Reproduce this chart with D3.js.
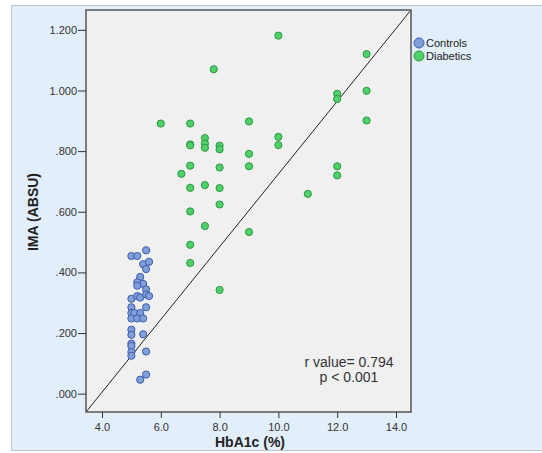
<!DOCTYPE html>
<html>
<head>
<meta charset="utf-8">
<script src="https://cdn.jsdelivr.net/npm/d3@7"></script>
<style>
  body { margin: 0; background: #fff; }
  text { font-family: Arial, "Liberation Sans", sans-serif; }
</style>
</head>
<body>
<div id="chart"></div>
<script>
// HbA1c (%) and IMA (ABSU) values
const controlsHbA1c = [5.0, 5.2, 5.5, 5.4, 5.6, 5.5, 5.3, 5.2, 5.4, 5.2, 5.5, 5.0, 5.2, 5.3, 5.5, 5.6, 5.0, 5.5,
  5.0, 5.1, 5.3, 5.0, 5.2, 5.4, 5.0, 5.0, 5.4, 5.0, 5.0, 5.0, 5.0, 5.5, 5.5, 5.3]
const controlsIMA = [0.454, 0.454, 0.473, 0.427, 0.435, 0.411, 0.385, 0.367, 0.362, 0.356, 0.344, 0.313, 0.322, 0.317, 0.327, 0.322, 0.285, 0.285,
  0.266, 0.266, 0.266, 0.248, 0.248, 0.248, 0.211, 0.194, 0.196, 0.165, 0.157, 0.137, 0.125, 0.139, 0.063, 0.046]

const diabeticsHbA1c = [6.0, 7.0, 7.0, 7.0, 7.5, 7.5, 7.5, 8.0, 8.0, 7.0, 6.7, 8.0, 9.0, 9.0, 9.0, 10.0, 10.0, 10.0,
  7.8, 7.0, 7.5, 8.0, 8.0, 7.0, 7.5, 9.0, 7.0, 7.0, 8.0, 11.0, 12.0, 12.0, 12.0, 12.0, 13.0, 13.0, 13.0]
const diabeticsIMA = [0.891, 0.891, 0.822, 0.819, 0.843, 0.825, 0.811, 0.818, 0.806, 0.752, 0.725, 0.746, 0.898, 0.791, 0.750, 1.181, 0.847, 0.820,
  1.070, 0.679, 0.688, 0.678, 0.624, 0.601, 0.553, 0.533, 0.491, 0.431, 0.342, 0.659, 0.989, 0.972, 0.750, 0.720, 1.120, 0.999, 0.901]

const xTicks = [4, 6, 8, 10, 12, 14]
const yTicks = [0, 0.2, 0.4, 0.6, 0.8, 1.0, 1.2]
const groups = ["Controls", "Diabetics"]
const colors = {Controls: {fill: "#7f9fdb", stroke: "#3d5ba8"}, Diabetics: {fill: "#4fd06a", stroke: "#2a9840"}}

const W = 542, H = 453
const PLOT = {LEFT: 86, RIGHT: 411, TOP: 10, BOTTOM: 412}

const svg = d3.select("#chart").append("svg")
    .attr("width", W)
    .attr("height", H)

// outer panel
svg.append("rect")
    .attr("x", 11.5).attr("y", 5.5)
    .attr("width", W).attr("height", 445)
    .attr("fill", "#e2eefa")
    .attr("stroke", "#b8c4d0")

const x = d3.scaleLinear().domain([3.456, 14.51]).range([PLOT.LEFT, PLOT.RIGHT])
const y = d3.scaleLinear().domain([-0.0605, 1.2655]).range([PLOT.BOTTOM, PLOT.TOP])

svg.append("rect")
    .attr("x", PLOT.LEFT).attr("y", PLOT.TOP)
    .attr("width", PLOT.RIGHT - PLOT.LEFT).attr("height", PLOT.BOTTOM - PLOT.TOP)
    .attr("fill", "#f0f0f0")

// reference line, corner to corner
svg.append("line")
    .attr("x1", x(x.domain()[0])).attr("y1", y(y.domain()[0]))
    .attr("x2", x(x.domain()[1])).attr("y2", y(y.domain()[1]))
    .attr("stroke", "#222")
    .attr("stroke-width", 1)

const points = []
controlsHbA1c.forEach((v, i) => points.push({g: "Controls", hb: v, ima: controlsIMA[i]}))
diabeticsHbA1c.forEach((v, i) => points.push({g: "Diabetics", hb: v, ima: diabeticsIMA[i]}))

svg.append("g").selectAll("circle")
    .data(points)
    .enter().append("circle")
        .attr("cx", d => x(d.hb))
        .attr("cy", d => y(d.ima))
        .attr("r", 3.6)
        .attr("fill", d => colors[d.g].fill)
        .attr("stroke", d => colors[d.g].stroke)
        .attr("stroke-width", 1)

// frame
svg.append("rect")
    .attr("x", PLOT.LEFT).attr("y", PLOT.TOP)
    .attr("width", PLOT.RIGHT - PLOT.LEFT).attr("height", PLOT.BOTTOM - PLOT.TOP)
    .attr("fill", "none")
    .attr("stroke", "#555")
    .attr("stroke-width", 1.5)

const xAxis = svg.append("g")
    .attr("transform", `translate(0, ${PLOT.BOTTOM})`)
    .call(d3.axisBottom(x).tickValues(xTicks).tickSize(6).tickSizeOuter(0).tickFormat(d3.format(".1f")))
const yAxis = svg.append("g")
    .attr("transform", `translate(${PLOT.LEFT}, 0)`)
    .call(d3.axisLeft(y).tickValues(yTicks).tickSize(8).tickSizeOuter(0)
        .tickFormat(d => d3.format(".3f")(d).replace(/^0/, "")))

;[xAxis, yAxis].forEach(a => {
    a.select(".domain").remove()
    a.selectAll(".tick line").attr("stroke", "#333")
    a.selectAll(".tick text").attr("fill", "#333").style("font-size", "11px")
        .style("font-family", "Arial, 'Liberation Sans', sans-serif")
})
xAxis.selectAll(".tick text").attr("dy", "0.9em")
yAxis.selectAll(".tick text").attr("x", -9)

// axis titles
svg.append("text")
    .attr("x", 250).attr("y", 456 - 9)
    .attr("text-anchor", "middle")
    .style("font-size", "14px").style("font-weight", "bold")
    .attr("fill", "#222")
    .text("HbA1c (%)")

svg.append("text")
    .attr("transform", "rotate(-90)")
    .attr("x", -212).attr("y", 38)
    .attr("text-anchor", "middle")
    .style("font-size", "14px").style("font-weight", "bold")
    .attr("fill", "#222")
    .text("IMA (ABSU)")

// r / p annotation
svg.append("text")
    .attr("x", 349).attr("y", 367)
    .attr("text-anchor", "middle")
    .style("font-size", "14px").attr("fill", "#333")
    .text("r value= 0.794")
svg.append("text")
    .attr("x", 349).attr("y", 382)
    .attr("text-anchor", "middle")
    .style("font-size", "14px").attr("fill", "#333")
    .text("p < 0.001")

// legend
const legend = svg.append("g")
    .selectAll("g")
    .data(groups)
    .enter().append("g")
        .attr("transform", (d, i) => `translate(419, ${43 + i * 13})`)
legend.append("circle")
    .attr("r", 5)
    .attr("fill", d => colors[d].fill)
    .attr("stroke", d => colors[d].stroke)
legend.append("text")
    .attr("x", 7).attr("dy", "0.35em")
    .style("font-size", "11px").attr("fill", "#222")
    .text(d => d)
</script>
</body>
</html>
